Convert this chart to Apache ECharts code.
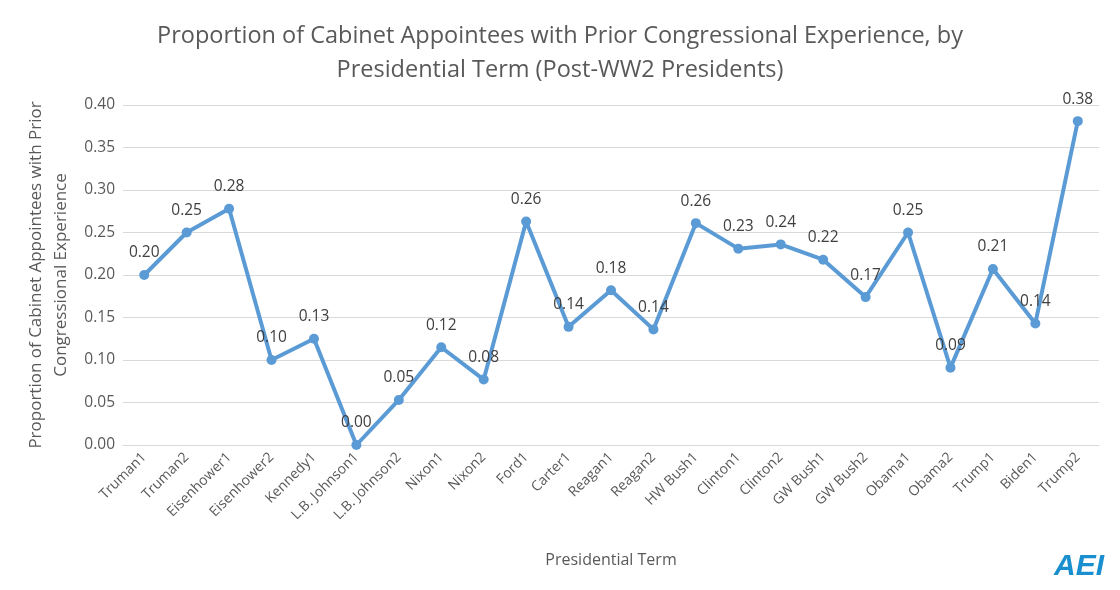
<!DOCTYPE html>
<html><head><meta charset="utf-8">
<script src="https://cdn.jsdelivr.net/npm/echarts@6/dist/echarts.min.js"></script>
<style>html,body{margin:0;padding:0;background:#fff}#c{width:1120px;height:590px}</style>
</head><body><div id="c"></div>
<script>
const categories = ["Truman1","Truman2","Eisenhower1","Eisenhower2","Kennedy1","L.B. Johnson1","L.B. Johnson2","Nixon1","Nixon2","Ford1","Carter1","Reagan1","Reagan2","HW Bush1","Clinton1","Clinton2","GW Bush1","GW Bush2","Obama1","Obama2","Trump1","Biden1","Trump2"];
const proportions = [0.200,0.250,0.278,0.100,0.125,0.000,0.053,0.115,0.077,0.263,0.139,0.182,0.136,0.261,0.231,0.236,0.218,0.174,0.250,0.091,0.207,0.143,0.381];
const yTicks = {min:0, max:0.40, interval:0.05};
const titleText = "Proportion of Cabinet Appointees with Prior Congressional Experience, by\nPresidential Term (Post-WW2 Presidents)";
const yName = "Proportion of Cabinet Appointees with Prior\nCongressional Experience";
const xName = "Presidential Term";

const FONT = "'Open Sans', 'Noto Sans', sans-serif";
const chart = echarts.init(document.getElementById('c'), null, {renderer:'canvas'});
chart.setOption({
  animation:false,
  backgroundColor:'#fff',
  title:{text:titleText,left:'center',top:14,textStyle:{fontFamily:FONT,fontSize:23.5,fontWeight:'normal',color:'#595959',lineHeight:34}},
  grid:{left:123,right:21,top:105,bottom:145},
  xAxis:{type:'category',data:categories,boundaryGap:true,
    name:xName,nameLocation:'middle',nameGap:107,nameTextStyle:{fontFamily:FONT,fontSize:16,color:'#595959'},
    axisLine:{show:true,lineStyle:{color:'#d9d9d9'}},axisTick:{show:false},
    axisLabel:{rotate:45,interval:0,fontFamily:FONT,fontSize:14,color:'#595959',margin:10}},
  yAxis:{type:'value',min:yTicks.min,max:yTicks.max,interval:yTicks.interval,
    name:yName,nameLocation:'middle',nameGap:49,nameRotate:90,nameTextStyle:{fontFamily:FONT,fontSize:17,color:'#595959',lineHeight:25},
    axisLine:{show:false},axisTick:{show:false},
    axisLabel:{formatter:v=>v.toFixed(2),fontFamily:FONT,fontSize:15.5,color:'#595959',margin:8},
    splitLine:{lineStyle:{color:'#d9d9d9',width:1}}},
  series:[{type:'line',data:proportions,symbol:'circle',symbolSize:10,
    lineStyle:{color:'#5b9bd5',width:4},itemStyle:{color:'#5b9bd5'},
    label:{show:true,position:'top',distance:9,formatter:p=>p.value.toFixed(2),fontFamily:FONT,fontSize:15.5,color:'#404040'}}],
  graphic:[{type:'text',left:1054,top:552,style:{text:'AEI',fill:'#1a8fd0',font:"italic bold 30px 'Liberation Sans', sans-serif"}}]
});
</script></body></html>
